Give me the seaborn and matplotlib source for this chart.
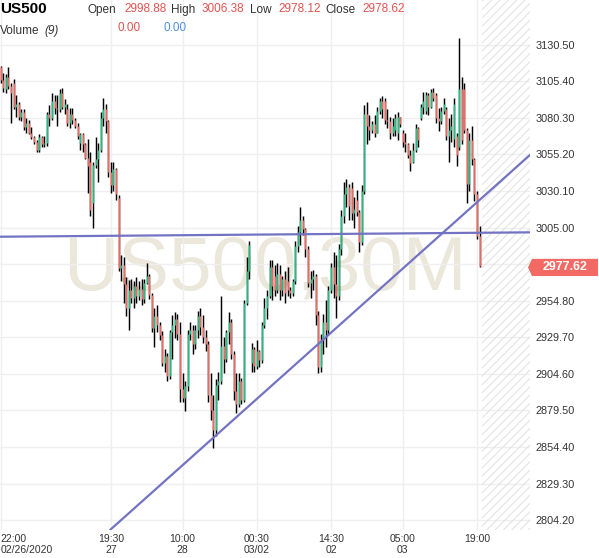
import matplotlib
matplotlib.use('Agg')
import numpy as np
import matplotlib.pyplot as plt
import matplotlib.transforms as mtransforms
from matplotlib.patches import Polygon
import seaborn as sns

sns.set_theme(style='white')
plt.rcParams['font.family'] = ['Liberation Sans', 'DejaVu Sans']
plt.rcParams['hatch.linewidth'] = 0.8
plt.rcParams['hatch.color'] = '#e4e4e4'

# ── US500 30M candles ──
opens = [
    3115, 3106, 3100, 3108, 3102, 3104, 3088, 3090, 3081, 3084,
    3074, 3077, 3070, 3067, 3064, 3058, 3067, 3062, 3063, 3083,
    3080, 3092, 3087, 3086, 3097, 3088, 3086, 3077, 3083, 3079,
    3075, 3063, 3069, 3062, 3053, 3050, 3022, 3048, 3052, 3058,
    3080, 3086, 3078, 3043, 3034, 3045, 3025, 2977, 2979, 2966,
    2950, 2962, 2957, 2965, 2958, 2963, 2956, 2967, 2972, 2959,
    2936, 2944, 2938, 2931, 2912, 2917, 2903, 2933, 2938, 2942,
    2932, 2894, 2888, 2896, 2932, 2935, 2925, 2935, 2944, 2937,
    2930, 2925, 2890, 2880, 2866, 2897, 2900, 2924, 2915, 2933,
    2940, 2918, 2893, 2884, 2900, 2887, 2953, 2975, 2912, 2922,
    2910, 2920, 2914, 2938, 2950, 2958, 2978, 2972, 2962, 2973,
    2962, 2970, 2968, 2962, 2960, 2968, 2992, 3002, 3010, 3004,
    2990, 2967, 2970, 2972, 2945, 2909, 2928, 2940, 2935, 2962,
    2978, 2966, 2958, 2990, 3013, 3028, 3033, 3032, 3015, 3024,
    3016, 2995, 3030, 3083, 3075, 3072, 3076, 3070, 3085, 3092,
    3092, 3079, 3078, 3070, 3072, 3070, 3081, 3070, 3064, 3062,
    3055, 3050, 3058, 3073, 3080, 3088, 3085, 3096, 3088, 3098,
    3096, 3080, 3078, 3085, 3086, 3068, 3072, 3066, 3068, 3060,
    3100, 3100, 3072, 3035, 3065, 3052, 3028, 2998.88,
]
highs = [
    3116, 3111, 3110, 3115, 3104, 3107, 3096, 3091, 3086, 3086,
    3080, 3079, 3074, 3068, 3065, 3069, 3068, 3068, 3084, 3089,
    3097, 3096, 3096, 3100, 3101, 3093, 3090, 3087, 3087, 3080,
    3077, 3070, 3070, 3063, 3066, 3057, 3050, 3067, 3063, 3084,
    3094, 3090, 3079, 3050, 3050, 3046, 3027, 2986, 2985, 2971,
    2969, 2970, 2968, 2971, 2968, 2970, 2970, 2981, 2973, 2960,
    2950, 2952, 2940, 2934, 2922, 2919, 2935, 2945, 2947, 2946,
    2940, 2905, 2900, 2935, 2940, 2938, 2938, 2948, 2950, 2945,
    2935, 2927, 2905, 2890, 2901, 2906, 2958, 2930, 2935, 2947,
    2942, 2920, 2905, 2905, 2902, 2955, 2985, 2996, 2926, 2923,
    2928, 2921, 2940, 2957, 2962, 2983, 2983, 2979, 2981, 2979,
    2972, 2975, 2978, 2964, 2970, 2996, 3006, 3019, 3013, 3005,
    2992, 2975, 2976, 2973, 2948, 2932, 2946, 2955, 2965, 2981,
    2988, 2986, 2994, 3017, 3036, 3038, 3035, 3036, 3026, 3031,
    3017, 3034, 3089, 3091, 3082, 3078, 3082, 3088, 3094, 3095,
    3094, 3086, 3081, 3080, 3083, 3084, 3081, 3072, 3070, 3063,
    3058, 3063, 3076, 3074, 3090, 3098, 3098, 3097, 3100, 3101,
    3097, 3087, 3088, 3094, 3088, 3080, 3083, 3094, 3070, 3135,
    3108, 3104, 3073, 3070, 3075, 3053, 3030, 3006.38,
]
lows = [
    3104, 3098, 3097, 3100, 3077, 3086, 3081, 3079, 3078, 3072,
    3070, 3069, 3066, 3062, 3057, 3057, 3060, 3060, 3061, 3075,
    3079, 3083, 3075, 3084, 3086, 3083, 3075, 3073, 3076, 3073,
    3066, 3058, 3057, 3052, 3029, 3013, 3005, 3046, 3036, 3057,
    3075, 3070, 3040, 3029, 3030, 3024, 2975, 2968, 2953, 2944,
    2935, 2953, 2950, 2953, 2955, 2952, 2953, 2966, 2956, 2933,
    2923, 2933, 2928, 2910, 2906, 2900, 2901, 2915, 2929, 2928,
    2885, 2885, 2879, 2893, 2928, 2918, 2922, 2929, 2931, 2926,
    2920, 2885, 2873, 2854, 2862, 2887, 2898, 2905, 2913, 2925,
    2915, 2887, 2878, 2882, 2884, 2885, 2952, 2970, 2906, 2906,
    2908, 2909, 2912, 2936, 2942, 2957, 2955, 2958, 2960, 2955,
    2958, 2953, 2958, 2957, 2958, 2966, 2988, 2993, 3000, 2985,
    2964, 2957, 2962, 2938, 2905, 2906, 2918, 2923, 2932, 2960,
    2957, 2943, 2955, 2986, 3008, 3019, 3010, 3010, 3005, 3013,
    2988, 2993, 3028, 3062, 3065, 3070, 3067, 3070, 3083, 3080,
    3076, 3073, 3066, 3068, 3068, 3065, 3074, 3060, 3057, 3053,
    3044, 3049, 3057, 3060, 3079, 3083, 3083, 3082, 3087, 3092,
    3077, 3071, 3076, 3083, 3065, 3050, 3064, 3060, 3047, 3058,
    3062, 3070, 3022, 3030, 3048, 3023, 2997, 2978.12,
]
closes = [
    3106, 3101, 3108, 3102, 3097, 3088, 3090, 3081, 3084, 3074,
    3077, 3070, 3067, 3064, 3058, 3067, 3062, 3063, 3083, 3080,
    3092, 3087, 3086, 3097, 3088, 3090, 3077, 3083, 3079, 3075,
    3068, 3069, 3062, 3053, 3047, 3017, 3048, 3052, 3058, 3080,
    3086, 3078, 3043, 3034, 3045, 3028, 2977, 2979, 2966, 2950,
    2962, 2957, 2965, 2958, 2963, 2956, 2967, 2972, 2959, 2936,
    2944, 2938, 2931, 2912, 2917, 2903, 2933, 2938, 2942, 2932,
    2894, 2888, 2896, 2932, 2935, 2925, 2935, 2944, 2937, 2930,
    2925, 2890, 2880, 2866, 2897, 2900, 2924, 2915, 2933, 2940,
    2918, 2893, 2884, 2900, 2887, 2953, 2975, 2993, 2922, 2910,
    2920, 2914, 2938, 2950, 2958, 2978, 2965, 2962, 2973, 2962,
    2970, 2960, 2962, 2960, 2968, 2992, 3002, 3010, 3004, 2990,
    2967, 2970, 2972, 2945, 2909, 2928, 2940, 2935, 2962, 2978,
    2966, 2958, 2990, 3013, 3028, 3033, 3020, 3015, 3018, 3016,
    2995, 3030, 3083, 3075, 3072, 3076, 3070, 3085, 3092, 3086,
    3079, 3078, 3070, 3075, 3080, 3081, 3076, 3064, 3062, 3055,
    3049, 3058, 3073, 3065, 3088, 3092, 3096, 3088, 3098, 3094,
    3080, 3078, 3085, 3090, 3068, 3072, 3075, 3090, 3055, 3100,
    3065, 3072, 3035, 3065, 3052, 3028, 2999, 2978.62,
]
bid = 2977.62

time_ticks = [0, 43, 71, 100, 129, 157, 186]
time_labels = ['22:00\n02/26/2020', '19:30\n27', '10:00\n28', '00:30\n03/02',
               '14:30\n02', '05:00\n03', '19:00']
price_ticks = [2804.20, 2829.30, 2854.40, 2879.50, 2904.60, 2929.70, 2954.80,
               2979.90, 3005.00, 3030.10, 3055.20, 3080.30, 3105.40, 3130.50]

# drawn trend lines (two anchor points each)
flat_line = [(-0.3, 2998.7), (206.7, 3001.7)]
rising_line = [(90.8, 2873.0), (206.7, 3054.8)]

GREEN = '#19c27c'
RED = '#f4655c'
LINE = '#7373c3'
TXT = '#333333'

fig = plt.figure(figsize=(5.99, 5.58), dpi=100)
ax = fig.add_axes([0, 28 / 558, 530 / 599, 530 / 558])

idx = np.arange(len(closes))
body_cols = [GREEN if c >= o else RED for o, c in zip(opens, closes)]

ax.text(0.5, 0.453, 'US500,30M', transform=ax.transAxes, ha='center',
        va='baseline', fontsize=55, color='#ebe7da', zorder=0)

ax.vlines(idx, lows, highs, color='black', linewidth=1.05, zorder=2)
ax.vlines(idx, opens, closes, colors=body_cols, linewidth=1.05, zorder=3)

ax.axline(flat_line[0], flat_line[1], color=LINE, linewidth=1.6, zorder=4)
ax.axline(rising_line[0], rising_line[1], color=LINE, linewidth=1.6, zorder=4)

ax.set_xlim(-0.3, 206.7)
ax.set_ylim(2797.5, 3161.1)

# future area
ax.axvspan(188.0, 206.7, facecolor='none', hatch='////', edgecolor='#e4e4e4',
           linewidth=0, zorder=1)

ax.set_xticks(time_ticks)
ax.set_xticklabels(time_labels, fontsize=7.5, color=TXT, linespacing=1.05)
ax.get_xticklabels()[0].set_ha('left')
ax.set_yticks(price_ticks)
# the 2979.90 label sits under the live price tag, as in the source
ax.set_yticklabels(['' if abs(p - bid) < 5 else f'{p:.2f}' for p in price_ticks],
                   fontsize=7.8, color=TXT)
ax.yaxis.tick_right()
ax.tick_params(axis='both', length=0)
ax.tick_params(axis='y', pad=4)
ax.tick_params(axis='x', pad=3)
ax.grid(True, color='#efefef', linewidth=1)
ax.set_axisbelow(True)
for s in ax.spines.values():
    s.set_visible(False)

# last price tag
tr = mtransforms.blended_transform_factory(fig.transFigure, ax.transData)
h = 5.9
tag = Polygon([(528 / 599, bid), (532 / 599, bid + h), (598 / 599, bid + h),
               (598 / 599, bid - h), (532 / 599, bid - h)], closed=True,
              transform=tr, facecolor='#f26a63', edgecolor='none', zorder=5)
fig.add_artist(tag)
fig.text(565 / 599, bid, f'{bid:.2f}', transform=tr, ha='center', va='center',
         color='white', fontsize=9, fontweight='bold', zorder=6)

# header
def hdr(xpx, ypx, s, **kw):
    fig.text(xpx / 599, 1 - ypx / 558, s, va='baseline', **kw)

hdr(0, 13, 'US500', fontsize=11, fontweight='bold', color='black')
hdr(88, 13, 'Open', fontsize=8.5, color=TXT)
hdr(124, 12, '2998.88', fontsize=8.5, color='#e05450')
hdr(171, 13, 'High', fontsize=8.5, color=TXT)
hdr(202, 12, '3006.38', fontsize=8.5, color='#e05450')
hdr(250, 13, 'Low', fontsize=8.5, color=TXT)
hdr(278, 12, '2978.12', fontsize=8.5, color='#e05450')
hdr(325, 13, 'Close', fontsize=8.5, color=TXT)
hdr(362, 12, '2978.62', fontsize=8.5, color='#e05450')
hdr(0, 34, 'Volume', fontsize=8.5, color=TXT)
hdr(44, 34, '(9)', fontsize=8.5, color=TXT, style='italic')
hdr(118, 31, '0.00', fontsize=8.5, color='#e05450')
hdr(163, 31, '0.00', fontsize=8.5, color='#4a8fe6')

fig.savefig('out.png', dpi=100)
